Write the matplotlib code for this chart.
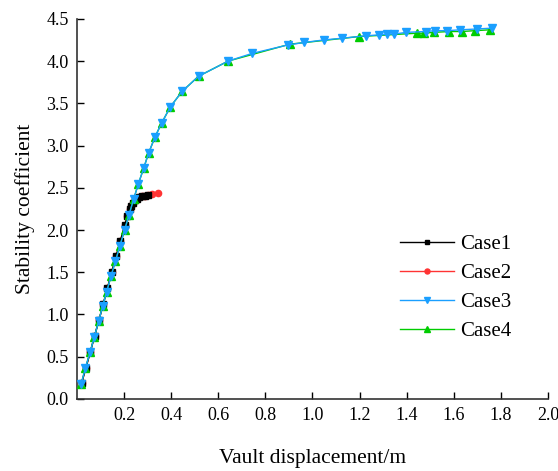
import matplotlib

matplotlib.use("Agg")
import matplotlib.pyplot as plt

# Case3 / Case4 share the lower branch
lower_x = [0.018, 0.036, 0.056, 0.073, 0.092, 0.109, 0.126, 0.144, 0.163, 0.182,
           0.202, 0.221, 0.241, 0.261, 0.283, 0.304, 0.331, 0.360, 0.397, 0.446,
           0.516, 0.642]
lower_y = [0.18, 0.37, 0.556, 0.73, 0.92, 1.10, 1.27, 1.45, 1.63, 1.81,
           2.00, 2.18, 2.37, 2.55, 2.73, 2.91, 3.10, 3.27, 3.46, 3.64,
           3.82, 4.00]

case3_x = lower_x + [0.743, 0.894, 0.964, 1.048, 1.124, 1.228, 1.284, 1.318, 1.348,
                     1.399, 1.480, 1.522, 1.573, 1.626, 1.699, 1.763]
case3_y = lower_y + [4.09, 4.19, 4.22, 4.25, 4.27, 4.30, 4.31, 4.32, 4.32,
                     4.34, 4.35, 4.36, 4.36, 4.37, 4.38, 4.39]

case4_x = lower_x + [0.904, 1.197, 1.444, 1.474, 1.516, 1.581, 1.634, 1.690, 1.752]
case4_y = lower_y + [4.20, 4.29, 4.33, 4.33, 4.34, 4.35, 4.35, 4.36, 4.37]

case1_x = [0.020, 0.038, 0.057, 0.075, 0.093, 0.111, 0.129, 0.147, 0.166, 0.184,
           0.203, 0.214, 0.224, 0.231, 0.238, 0.246, 0.255, 0.264, 0.274, 0.287, 0.300]
case1_y = [0.19, 0.37, 0.56, 0.75, 0.93, 1.12, 1.31, 1.50, 1.69, 1.87,
           2.06, 2.16, 2.25, 2.29, 2.32, 2.35, 2.37, 2.39, 2.40, 2.40, 2.41]

case2_x = case1_x[:-2] + [0.288, 0.303, 0.320, 0.345]
case2_y = case1_y[:-2] + [2.40, 2.41, 2.43, 2.44]

plt.rcParams["font.family"] = ["Liberation Serif", "DejaVu Serif"]

fig = plt.figure(figsize=(5.58, 4.71), dpi=100)
ax = fig.add_axes([0.138, 0.153, 0.844, 0.807])

ax.plot(case1_x, case1_y, "-s", color="black", lw=1, ms=4, label="Case1", zorder=4)
ax.plot(case2_x, case2_y, "-o", color="#ff3333", lw=1, ms=4.5, label="Case2", zorder=3)
ax.plot(case4_x, case4_y, "-^", color="#00cc00", lw=1, ms=5.5, label="Case4", zorder=5)
ax.plot(case3_x, case3_y, "-v", color="#1a9fff", lw=1, ms=5.5, label="Case3", zorder=6)

ax.set_xlim(0, 2.0)
ax.set_ylim(0, 4.5)
ax.set_xticks([0.2, 0.4, 0.6, 0.8, 1.0, 1.2, 1.4, 1.6, 1.8, 2.0])
ax.set_yticks([0.0, 0.5, 1.0, 1.5, 2.0, 2.5, 3.0, 3.5, 4.0, 4.5])
ax.set_xticklabels(["0.2", "0.4", "0.6", "0.8", "1.0", "1.2", "1.4", "1.6", "1.8", "2.0"])
ax.set_yticklabels(["0.0", "0.5", "1.0", "1.5", "2.0", "2.5", "3.0", "3.5", "4.0", "4.5"])
ax.tick_params(direction="in", length=5, width=1, labelsize=13, pad=6)
ax.spines["top"].set_visible(False)
ax.spines["right"].set_visible(False)
for s in ("left", "bottom"):
    ax.spines[s].set_linewidth(1.2)
    ax.spines[s].set_color("#333333")

ax.set_xlabel("Vault displacement/m", fontsize=15.5, labelpad=18)
ax.set_ylabel("Stability coefficient", fontsize=15.5, labelpad=8)

handles, labels = ax.get_legend_handles_labels()
order = [0, 1, 3, 2]
ax.legend([handles[i] for i in order], [labels[i] for i in order],
          loc="center left", bbox_to_anchor=(0.645, 0.293), frameon=False,
          fontsize=15, markerscale=0.8, handlelength=2.6, labelspacing=0.45,
          handletextpad=0.3, numpoints=1)

fig.savefig("out.png", dpi=100)
